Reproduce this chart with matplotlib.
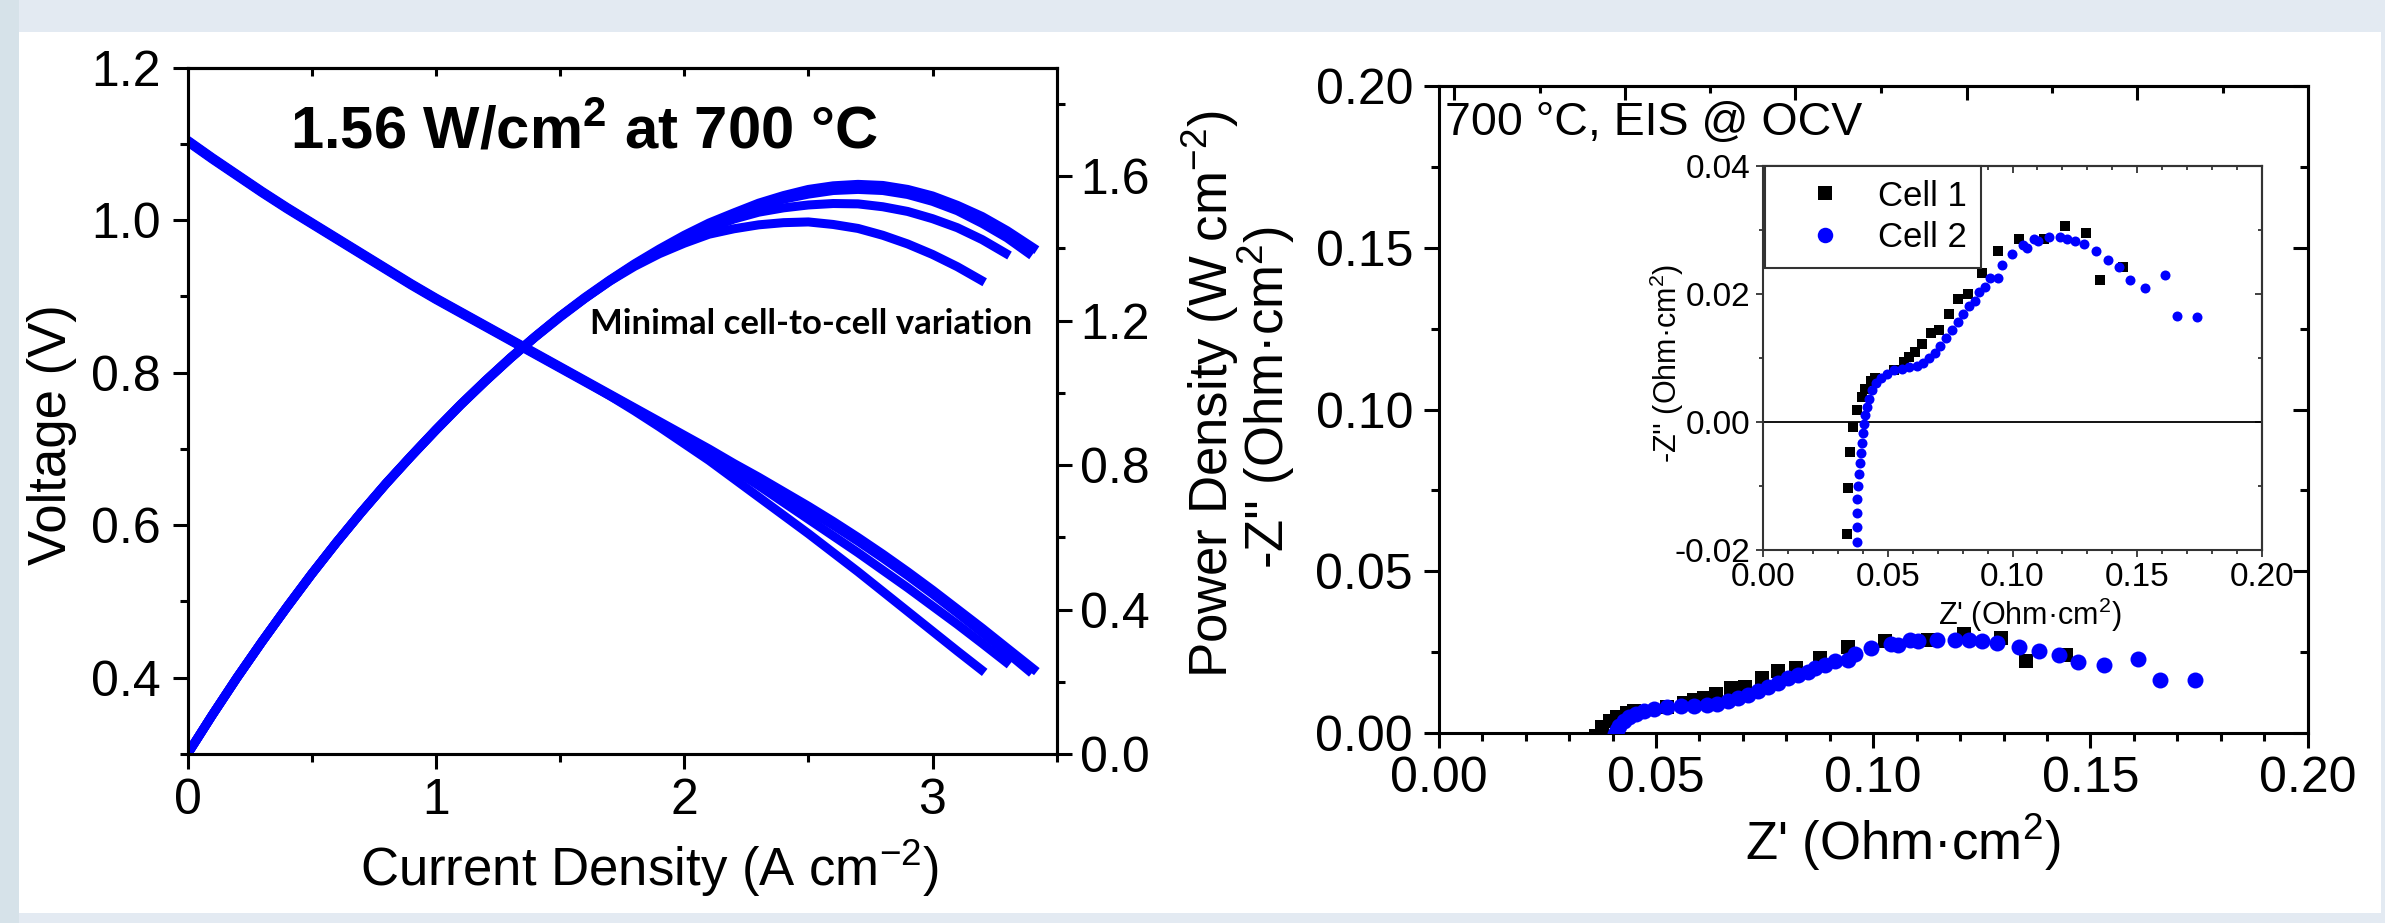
import matplotlib
matplotlib.use("Agg")
import matplotlib.pyplot as plt
from matplotlib.ticker import FixedLocator, FormatStrFormatter, NullFormatter
from matplotlib.patches import Rectangle

plt.rcParams['font.family'] = ['Liberation Sans', 'DejaVu Sans']
plt.rcParams['mathtext.fontset'] = 'custom'
plt.rcParams['mathtext.rm'] = 'Liberation Sans'
plt.rcParams['mathtext.it'] = 'Liberation Sans:italic'
plt.rcParams['mathtext.bf'] = 'Liberation Sans:bold'
plt.rcParams['axes.unicode_minus'] = False

# ---------------- data: polarization curves (4 cells) ----------------
j_a = [0, 0.1, 0.2, 0.3, 0.4, 0.5, 0.6, 0.7, 0.8, 0.9, 1.0, 1.1, 1.2, 1.3, 1.4, 1.5, 1.6, 1.7,
       1.8, 1.9, 2.0, 2.1, 2.2, 2.3, 2.4, 2.5, 2.6, 2.7, 2.8, 2.9, 3.0, 3.1, 3.2, 3.3, 3.42]
v_a = [1.105, 1.082, 1.060, 1.038, 1.017, 0.997, 0.977, 0.957, 0.937, 0.917, 0.898, 0.880,
       0.862, 0.844, 0.826, 0.808, 0.790, 0.772, 0.754, 0.736, 0.718, 0.700, 0.681, 0.663,
       0.644, 0.625, 0.605, 0.584, 0.562, 0.539, 0.515, 0.490, 0.465, 0.439, 0.408]
p_a = [0.0, 0.108, 0.212, 0.311, 0.407, 0.499, 0.586, 0.670, 0.750, 0.825, 0.898, 0.968,
       1.034, 1.097, 1.156, 1.212, 1.264, 1.312, 1.357, 1.398, 1.436, 1.470, 1.498, 1.525,
       1.546, 1.563, 1.573, 1.577, 1.574, 1.563, 1.545, 1.519, 1.488, 1.449, 1.395]

j_b = [0, 0.1, 0.2, 0.3, 0.4, 0.5, 0.6, 0.7, 0.8, 0.9, 1.0, 1.1, 1.2, 1.3, 1.4, 1.5, 1.6, 1.7,
       1.8, 1.9, 2.0, 2.1, 2.2, 2.3, 2.4, 2.5, 2.6, 2.7, 2.8, 2.9, 3.0, 3.1, 3.2, 3.3, 3.4]
v_b = [1.104, 1.081, 1.059, 1.037, 1.016, 0.996, 0.976, 0.956, 0.936, 0.916, 0.897, 0.879,
       0.861, 0.843, 0.825, 0.807, 0.789, 0.771, 0.753, 0.734, 0.716, 0.697, 0.678, 0.659,
       0.640, 0.620, 0.600, 0.579, 0.557, 0.534, 0.510, 0.485, 0.459, 0.433, 0.406]
p_b = [0.0, 0.108, 0.212, 0.311, 0.406, 0.498, 0.586, 0.669, 0.749, 0.824, 0.897, 0.967,
       1.033, 1.096, 1.155, 1.211, 1.262, 1.311, 1.355, 1.395, 1.432, 1.464, 1.492, 1.516,
       1.536, 1.550, 1.560, 1.563, 1.560, 1.549, 1.530, 1.504, 1.469, 1.429, 1.380]

j_c = [0, 0.1, 0.2, 0.3, 0.4, 0.5, 0.6, 0.7, 0.8, 0.9, 1.0, 1.1, 1.2, 1.3, 1.4, 1.5, 1.6, 1.7,
       1.8, 1.9, 2.0, 2.1, 2.2, 2.3, 2.4, 2.5, 2.6, 2.7, 2.8, 2.9, 3.0, 3.1, 3.2, 3.31]
v_c = [1.103, 1.080, 1.058, 1.036, 1.015, 0.995, 0.975, 0.955, 0.935, 0.915, 0.896, 0.878,
       0.860, 0.842, 0.824, 0.806, 0.788, 0.770, 0.752, 0.733, 0.713, 0.693, 0.673, 0.652,
       0.630, 0.608, 0.586, 0.564, 0.541, 0.518, 0.494, 0.470, 0.445, 0.417]
p_c = [0.0, 0.108, 0.212, 0.311, 0.406, 0.498, 0.585, 0.669, 0.748, 0.824, 0.896, 0.966,
       1.032, 1.095, 1.154, 1.209, 1.261, 1.309, 1.354, 1.393, 1.426, 1.455, 1.481, 1.500,
       1.512, 1.520, 1.524, 1.523, 1.515, 1.502, 1.482, 1.457, 1.424, 1.380]

j_d = [0, 0.1, 0.2, 0.3, 0.4, 0.5, 0.6, 0.7, 0.8, 0.9, 1.0, 1.1, 1.2, 1.3, 1.4, 1.5, 1.6, 1.7,
       1.8, 1.9, 2.0, 2.1, 2.2, 2.3, 2.4, 2.5, 2.6, 2.7, 2.8, 2.9, 3.0, 3.1, 3.21]
v_d = [1.104, 1.081, 1.059, 1.037, 1.016, 0.996, 0.976, 0.956, 0.936, 0.916, 0.897, 0.879,
       0.861, 0.843, 0.825, 0.807, 0.789, 0.770, 0.750, 0.729, 0.707, 0.685, 0.661, 0.637,
       0.613, 0.589, 0.564, 0.539, 0.513, 0.487, 0.461, 0.435, 0.407]
p_d = [0.0, 0.108, 0.212, 0.311, 0.406, 0.498, 0.586, 0.669, 0.749, 0.824, 0.897, 0.967,
       1.033, 1.096, 1.155, 1.211, 1.262, 1.309, 1.350, 1.385, 1.414, 1.439, 1.454, 1.465,
       1.471, 1.473, 1.466, 1.455, 1.436, 1.412, 1.383, 1.349, 1.306]

# ---------------- data: impedance spectra ----------------
cell1_zre = [0.0338, 0.0341, 0.0349, 0.0361, 0.0376, 0.0395, 0.0410, 0.0433, 0.0449, 0.0526,
             0.0564, 0.0587, 0.0611, 0.0638, 0.0672, 0.0706, 0.0745, 0.0780, 0.0823, 0.0877,
             0.0942, 0.1027, 0.1127, 0.1209, 0.1294, 0.1351, 0.1443]
cell1_zim = [-0.0176, -0.0103, -0.0048, -0.0009, 0.0018, 0.0038, 0.0051, 0.0063, 0.0068, 0.0081,
             0.0093, 0.0101, 0.0109, 0.0121, 0.0138, 0.0143, 0.0169, 0.0191, 0.0200, 0.0233,
             0.0267, 0.0285, 0.0286, 0.0306, 0.0295, 0.0222, 0.0241]

cell2_zre = [0.0375, 0.0375, 0.0376, 0.0378, 0.0379, 0.0384, 0.0387, 0.0392, 0.0396, 0.0401,
             0.0406, 0.0410, 0.0416, 0.0426, 0.0438, 0.0453, 0.0472, 0.0495, 0.0526, 0.0557,
             0.0587, 0.0618, 0.0641, 0.0665, 0.0688, 0.0711, 0.0734, 0.0757, 0.0780, 0.0803,
             0.0826, 0.0849, 0.0865, 0.0888, 0.0911, 0.0942, 0.0957, 0.0996, 0.1042, 0.1058,
             0.1085, 0.1104, 0.1147, 0.1189, 0.1220, 0.1251, 0.1286, 0.1335, 0.1381, 0.1427,
             0.1471, 0.1532, 0.1610, 0.1659, 0.1741]
cell2_zim = [-0.0188, -0.0164, -0.0142, -0.0120, -0.0100, -0.0081, -0.0065, -0.0049, -0.0034, -0.0018,
             -0.0003, 0.0010, 0.0023, 0.0036, 0.0049, 0.0060, 0.0068, 0.0074, 0.0080, 0.0083,
             0.0085, 0.0087, 0.0091, 0.0099, 0.0108, 0.0118, 0.0130, 0.0143, 0.0156, 0.0169,
             0.0180, 0.0188, 0.0202, 0.0211, 0.0224, 0.0225, 0.0245, 0.0262, 0.0276, 0.0271,
             0.0286, 0.0283, 0.0289, 0.0289, 0.0286, 0.0283, 0.0277, 0.0267, 0.0253, 0.0241,
             0.0221, 0.0209, 0.0229, 0.0165, 0.0163]

# tick positions
iv_xticks = [0, 1, 2, 3]
iv_xminor = [0.5, 1.5, 2.5, 3.5]
iv_top = [0.5, 1.0, 1.5, 2.0, 2.5, 3.0]
v_ticks = [0.4, 0.6, 0.8, 1.0, 1.2]
v_minor = [0.3, 0.5, 0.7, 0.9, 1.1]
p_ticks = [0.0, 0.4, 0.8, 1.2, 1.6]
p_minor = [0.2, 0.6, 1.0, 1.4, 1.8]
eis_ticks = [0.0, 0.05, 0.10, 0.15, 0.20]
eis_minor = [0.01, 0.02, 0.03, 0.04, 0.06, 0.07, 0.08, 0.09, 0.11, 0.12, 0.13, 0.14,
             0.16, 0.17, 0.18, 0.19]
eis_yminor = [0.025, 0.075, 0.125, 0.175]
eis_top_major = [0.0035, 0.0428, 0.0821, 0.1215, 0.1608]
eis_top_minor = [0.0232, 0.0625, 0.1018, 0.1411, 0.1804]
ins_yticks = [-0.02, 0.0, 0.02, 0.04]
ins_yminor = [-0.01, 0.01, 0.03]

BLUE = '#0000FF'
W, H, DPI = 2385, 923, 100
fig = plt.figure(figsize=(W / DPI, H / DPI), dpi=DPI, facecolor='white')


def fx(px):
    return px / W


def fy(py):
    return 1 - py / H


def rect(l, t, r, b):
    return [fx(l), fy(b), fx(r) - fx(l), fy(t) - fy(b)]


# slide-like background frame
fig.patches.append(Rectangle((0, 0), 1, 1, transform=fig.transFigure,
                             facecolor='#e3eaf2', edgecolor='none', zorder=-10))
fig.patches.append(Rectangle((0, 0), fx(19), 1, transform=fig.transFigure,
                             facecolor='#d6e2e9', edgecolor='none', zorder=-9))
fig.patches.append(Rectangle((fx(19), fy(913)), fx(2381) - fx(19), fy(32) - fy(913),
                             transform=fig.transFigure, facecolor='white',
                             edgecolor='none', zorder=-8))

SPW = 2.2
TICK = 36
LAB = 38
LW = 6.5

# ---------------- left panel ----------------
ax = fig.add_axes(rect(187.5, 67.7, 1056.7, 754))
ax2 = ax.twinx()
for jj, vv in [(j_a, v_a), (j_b, v_b), (j_c, v_c), (j_d, v_d)]:
    ax.plot(jj, vv, color=BLUE, lw=LW, solid_capstyle='butt', solid_joinstyle='round')
for jj, pp in [(j_a, p_a), (j_b, p_b), (j_c, p_c), (j_d, p_d)]:
    ax2.plot(jj, pp, color=BLUE, lw=LW, solid_capstyle='butt', solid_joinstyle='round')
ax.set_xlim(0, 3.5)
ax.set_ylim(0.3, 1.2)
ax2.set_ylim(0, 1.9)

ax.xaxis.set_major_locator(FixedLocator(iv_xticks))
ax.xaxis.set_minor_locator(FixedLocator(iv_xminor))
ax.xaxis.set_major_formatter(FormatStrFormatter('%d'))
ax.yaxis.set_major_locator(FixedLocator(v_ticks))
ax.yaxis.set_minor_locator(FixedLocator(v_minor))
ax.yaxis.set_major_formatter(FormatStrFormatter('%.1f'))
ax.tick_params(which='major', direction='out', length=10.5, width=SPW, labelsize=TICK,
               top=False, right=False)
ax.tick_params(which='minor', direction='out', length=5.5, width=SPW, top=False, right=False)
ax.tick_params(axis='x', which='major', pad=7)
ax.tick_params(axis='y', which='major', pad=9)

ax2.yaxis.set_major_locator(FixedLocator(p_ticks))
ax2.yaxis.set_minor_locator(FixedLocator(p_minor))
ax2.yaxis.set_major_formatter(FormatStrFormatter('%.1f'))
ax2.tick_params(which='major', direction='out', length=10.5, width=SPW, labelsize=TICK, pad=6.5)
ax2.tick_params(which='minor', direction='out', length=5.5, width=SPW)

secx = ax.secondary_xaxis('top')
secx.xaxis.set_major_locator(FixedLocator(iv_top))
secx.xaxis.set_major_formatter(NullFormatter())
secx.tick_params(direction='in', length=5.5, width=SPW)

for a in (ax, ax2):
    for s in a.spines.values():
        s.set_linewidth(SPW)
for s in secx.spines.values():
    s.set_linewidth(SPW)

fig.text(fx(52), fy(435), 'Voltage (V)', rotation=90, ha='center', va='center', fontsize=LAB)
fig.text(fx(650), fy(868), 'Current Density (A cm$^{-2}$)', ha='center', va='center',
         fontsize=LAB)
fig.text(fx(1210), fy(394), 'Power Density (W cm$^{-2}$)', rotation=90, ha='center',
         va='center', fontsize=LAB)
fig.text(fx(290), fy(148), r'1.56 W/cm$^{\mathbf{2}}$ at 700 °C', ha='left', va='baseline',
         fontsize=43, fontweight='bold')
fig.text(fx(590), fy(334), 'Minimal cell-to-cell variation', ha='left', va='baseline',
         fontsize=25, fontweight='bold', family=['Lato', 'DejaVu Sans'])

# ---------------- right panel ----------------
ax3 = fig.add_axes(rect(1438.7, 86, 2307.7, 733))
ax3.plot(cell1_zre, cell1_zim, 's', color='black', ms=10.5, mew=0, zorder=3)
ax3.plot(cell2_zre, cell2_zim, 'o', color=BLUE, ms=11.5, mew=0, zorder=4)
ax3.set_xlim(0, 0.2)
ax3.set_ylim(0, 0.2)
ax3.xaxis.set_major_locator(FixedLocator(eis_ticks))
ax3.xaxis.set_minor_locator(FixedLocator(eis_minor))
ax3.yaxis.set_major_locator(FixedLocator(eis_ticks))
ax3.yaxis.set_minor_locator(FixedLocator(eis_yminor))
ax3.xaxis.set_major_formatter(FormatStrFormatter('%.2f'))
ax3.yaxis.set_major_formatter(FormatStrFormatter('%.2f'))
ax3.tick_params(which='major', direction='out', length=10.5, width=SPW, labelsize=TICK,
                top=False, right=False)
ax3.tick_params(which='minor', direction='out', length=5.5, width=SPW, top=False, right=False)
ax3.tick_params(axis='x', which='major', pad=6)
ax3.tick_params(axis='y', which='major', pad=8)
for s in ax3.spines.values():
    s.set_linewidth(SPW)

sec3t = ax3.secondary_xaxis('top')
sec3t.xaxis.set_major_locator(FixedLocator(eis_top_major))
sec3t.xaxis.set_minor_locator(FixedLocator(eis_top_minor))
sec3t.xaxis.set_major_formatter(NullFormatter())
sec3t.tick_params(which='major', direction='in', length=10, width=SPW)
sec3t.tick_params(which='minor', direction='in', length=5, width=SPW)
sec3r = ax3.secondary_yaxis('right')
sec3r.yaxis.set_major_locator(FixedLocator(eis_ticks))
sec3r.yaxis.set_minor_locator(FixedLocator(eis_yminor))
sec3r.yaxis.set_major_formatter(NullFormatter())
sec3r.tick_params(which='major', direction='in', length=10.5, width=SPW)
sec3r.tick_params(which='minor', direction='in', length=5.5, width=SPW)
for sa in (sec3t, sec3r):
    for s in sa.spines.values():
        s.set_linewidth(SPW)

fig.text(fx(1266), fy(397), "-Z'' (Ohm·cm$^{2}$)", rotation=90, ha='center', va='center',
         fontsize=LAB)
fig.text(fx(1903), fy(842), "Z' (Ohm·cm$^{2}$)", ha='center', va='center', fontsize=LAB)
fig.text(fx(1445), fy(135), '700 °C, EIS @ OCV', ha='left', va='baseline', fontsize=33.5)

# ---------------- inset ----------------
ICOL = '#333333'
axi = fig.add_axes(rect(1763, 165.7, 2262, 549.7))
axi.axhline(0, color='black', lw=1.3, zorder=1)
axi.plot(cell1_zre, cell1_zim, 's', color='black', ms=6.8, mew=0, label='Cell 1', zorder=3)
axi.plot(cell2_zre, cell2_zim, 'o', color=BLUE, ms=7.2, mew=0, label='Cell 2', zorder=4)
axi.set_xlim(0, 0.2)
axi.set_ylim(-0.02, 0.04)
axi.xaxis.set_major_locator(FixedLocator(eis_ticks))
axi.xaxis.set_minor_locator(FixedLocator(eis_minor))
axi.yaxis.set_major_locator(FixedLocator(ins_yticks))
axi.yaxis.set_minor_locator(FixedLocator(ins_yminor))
axi.xaxis.set_major_formatter(FormatStrFormatter('%.2f'))
axi.yaxis.set_major_formatter(FormatStrFormatter('%.2f'))
axi.tick_params(which='major', direction='out', length=5, width=1.3, labelsize=24,
                colors=ICOL, labelcolor='black', top=False, right=False, pad=4)
axi.tick_params(which='minor', direction='out', length=3, width=1.3, colors=ICOL,
                top=False, right=False)
for s in axi.spines.values():
    s.set_linewidth(1.5)
    s.set_color(ICOL)
seci_t = axi.secondary_xaxis('top')
seci_t.xaxis.set_major_locator(FixedLocator(eis_ticks))
seci_t.xaxis.set_minor_locator(FixedLocator(eis_minor))
seci_t.xaxis.set_major_formatter(NullFormatter())
seci_t.tick_params(which='major', direction='in', length=5, width=1.3, colors=ICOL)
seci_t.tick_params(which='minor', direction='in', length=3, width=1.3, colors=ICOL)
seci_r = axi.secondary_yaxis('right')
seci_r.yaxis.set_major_locator(FixedLocator(ins_yticks))
seci_r.yaxis.set_minor_locator(FixedLocator(ins_yminor))
seci_r.yaxis.set_major_formatter(NullFormatter())
seci_r.tick_params(which='major', direction='in', length=5, width=1.3, colors=ICOL)
seci_r.tick_params(which='minor', direction='in', length=3, width=1.3, colors=ICOL)
for sa in (seci_t, seci_r):
    for s in sa.spines.values():
        s.set_linewidth(1.5)
        s.set_color(ICOL)

leg = axi.legend(loc='upper left', bbox_to_anchor=(0.005, 1.0), borderaxespad=0,
                 fontsize=25, borderpad=0.4, handlelength=2.6, handletextpad=0.25,
                 labelspacing=0.25, markerscale=1.55, fancybox=False, edgecolor=ICOL,
                 framealpha=1)
leg.get_frame().set_linewidth(1.5)

fig.text(fx(2030), fy(615), "Z' (Ohm·cm$^{2}$)", ha='center', va='center', fontsize=22)
fig.text(fx(1667), fy(363), "-Z'' (Ohm·cm$^{2}$)", rotation=90, ha='center', va='center',
         fontsize=22)

fig.savefig('out.png', dpi=DPI, facecolor=fig.get_facecolor())
